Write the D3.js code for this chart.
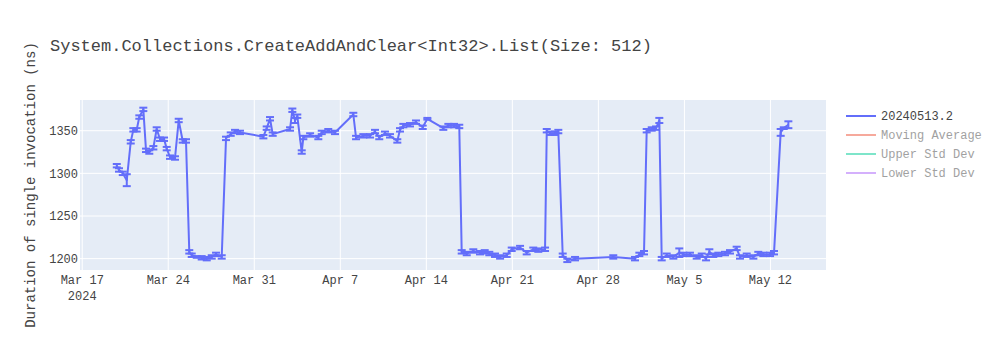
<!DOCTYPE html>
<html>
<head>
<meta charset="utf-8">
<script src="https://d3js.org/d3.v7.min.js"></script>
<style>
  body { margin: 0; background: #fff; }
  svg { font-family: "Courier New", "Liberation Mono", monospace; }
</style>
</head>
<body>
<svg width="1000" height="350"></svg>
<script>
// run timestamps
var runDates = [
  "2024-03-19T19:30","2024-03-19T23:50","2024-03-20T07:10","2024-03-20T15:00","2024-03-20T22:45",
  "2024-03-21T03:50","2024-03-21T10:20","2024-03-21T15:30","2024-03-21T23:20","2024-03-22T04:35",
  "2024-03-22T11:00","2024-03-22T18:55","2024-03-23T01:25","2024-03-23T07:55","2024-03-23T15:50",
  "2024-03-23T21:00","2024-03-24T03:25","2024-03-24T13:10","2024-03-24T20:25","2024-03-25T04:15",
  "2024-03-25T10:40","2024-03-25T17:05","2024-03-25T21:50","2024-03-26T07:40","2024-03-26T17:20",
  "2024-03-27T03:10","2024-03-27T12:55","2024-03-27T21:20","2024-03-28T08:25","2024-03-28T16:50",
  "2024-03-29T02:00","2024-03-29T10:20","2024-03-29T20:10","2024-03-31T17:45","2024-04-01T00:15",
  "2024-04-01T06:45","2024-04-01T12:00","2024-04-02T21:50","2024-04-03T02:20","2024-04-03T07:30",
  "2024-04-03T12:00","2024-04-03T20:40","2024-04-03T23:50","2024-04-04T13:00","2024-04-05T05:05",
  "2024-04-05T11:45","2024-04-06T00:30","2024-04-06T13:40","2024-04-08T01:25","2024-04-08T06:45",
  "2024-04-08T21:00","2024-04-09T10:05","2024-04-09T19:45","2024-04-10T04:05","2024-04-10T15:15",
  "2024-04-11T01:00","2024-04-11T15:20","2024-04-11T20:35","2024-04-12T03:05","2024-04-12T16:05",
  "2024-04-13T03:50","2024-04-13T17:00","2024-04-14T02:00","2024-04-15T09:10","2024-04-15T19:00",
  "2024-04-16T06:00","2024-04-16T16:20","2024-04-16T21:05","2024-04-17T06:55","2024-04-17T19:45",
  "2024-04-18T08:50","2024-04-18T18:00","2024-04-19T03:00","2024-04-19T14:10","2024-04-20T00:00",
  "2024-04-20T13:00","2024-04-20T22:45","2024-04-21T15:00","2024-04-22T04:00","2024-04-22T16:50",
  "2024-04-23T02:40","2024-04-23T15:50","2024-04-23T19:10","2024-04-24T01:30","2024-04-24T11:20",
  "2024-04-24T17:45","2024-04-25T02:20","2024-04-25T11:20","2024-04-26T02:25","2024-04-29T05:05",
  "2024-04-30T23:30","2024-05-01T08:00","2024-05-01T17:05","2024-05-01T22:20","2024-05-02T08:10",
  "2024-05-02T16:35","2024-05-02T23:00","2024-05-03T03:40","2024-05-03T13:25","2024-05-04T02:25",
  "2024-05-04T14:00","2024-05-04T21:50","2024-05-05T10:50","2024-05-06T00:00","2024-05-06T09:50",
  "2024-05-06T18:15","2024-05-07T00:40","2024-05-07T08:25","2024-05-07T18:15","2024-05-08T07:15",
  "2024-05-08T17:00","2024-05-09T06:00","2024-05-09T12:30","2024-05-10T01:40","2024-05-10T14:40",
  "2024-05-11T00:15","2024-05-11T10:05","2024-05-11T23:15","2024-05-12T07:00","2024-05-12T20:00",
  "2024-05-13T02:00","2024-05-13T11:00"
];

// duration (ns)
var durations = [
  1309,1304,1300,1292,1337, 1351,1351,1366,1375,1327,
  1325,1330,1352,1340,1340, 1329,1319,1318,1362,1338,
  1338,1208,1204,1202,1201, 1200,1202,1205,1202,1341,
  1346,1349,1348,1343,1353, 1364,1346,1352,1374,1362,
  1367,1325,1342,1345,1342, 1348,1350,1348,1369,1342,
  1344,1344,1349,1342,1347, 1344,1338,1351,1356,1357,
  1360,1354,1364,1353,1356, 1356,1355,1208,1206,1209,
  1207,1208,1206,1204,1202, 1204,1211,1213,1207,1211,
  1210,1211,1350,1347,1347, 1349,1204,1198,1200,1202,
  1200,1205,1207,1350,1352, 1353,1362,1200,1204,1202,
  1207,1205,1205,1202,1204, 1200,1208,1204,1205,1206,
  1208,1212,1202,1204,1202, 1206,1205,1205,1207,1348,
  1353,1357
];

// error bar half-size (ns)
var errors = [
  2,2,2,7,2, 2,2,2,2,2,
  2,2,2,2,2, 2,2,2,2,2,
  2,2,2,1,2, 2,2,2,2,2,
  2,2,2,2,2, 2,2,2,2,3,
  2,2,2,2,2, 2,2,2,2,2,
  2,2,2,2,2, 2,2,2,2,2,
  2,2,1,2,2, 2,2,2,2,2,
  2,2,2,2,2, 2,2,2,2,2,
  2,2,2,2,2, 2,2,2,2,2,
  2,2,2,2,2, 2,3,2,2,2,
  5,2,2,2,2, 2,3,2,2,2,
  2,2,2,2,2, 2,2,2,2,4,
  1,4
];

var yTicks = [1200, 1250, 1300, 1350];
var seriesNames = ["20240513.2", "Moving Average", "Upper Std Dev", "Lower Std Dev"];
var seriesColors = ["#636efa", "#EF553B", "#00cc96", "#ab63fa"];

var parse = d3.timeParse("%Y-%m-%dT%H:%M");
var data = runDates.map(function(d, i) {
  return { date: parse(d), value: durations[i], err: errors[i] };
});

var svg = d3.select("svg");
var margin = { left: 80, right: 174, top: 100, bottom: 80 };
var width = 1000 - margin.left - margin.right,
    height = 350 - margin.top - margin.bottom;

var x = d3.scaleTime()
    .domain([new Date(2024, 2, 16, 19, 40), new Date(2024, 4, 16, 12, 30)])
    .range([0, width]);
var y = d3.scaleLinear()
    .domain([1186.7, 1386])
    .range([height, 0]);

svg.append("text")
    .attr("x", 50).attr("y", 51)
    .attr("font-size", 17).attr("fill", "#444")
    .text("System.Collections.CreateAddAndClear<Int32>.List(Size: 512)");

var g = svg.append("g").attr("transform", "translate(" + margin.left + "," + margin.top + ")");

g.append("rect").attr("width", width).attr("height", height).attr("fill", "#E5ECF6");

var weekTicks = d3.timeWeek.every(1).range(new Date(2024, 2, 17), new Date(2024, 4, 16, 12));

g.selectAll(".xgrid").data(weekTicks).enter().append("line")
    .attr("x1", function(d) { return x(d); }).attr("x2", function(d) { return x(d); })
    .attr("y1", 0).attr("y2", height)
    .attr("stroke", "#fff").attr("stroke-width", 1);

g.selectAll(".ygrid").data(yTicks).enter().append("line")
    .attr("x1", 0).attr("x2", width)
    .attr("y1", function(d) { return y(d); }).attr("y2", function(d) { return y(d); })
    .attr("stroke", "#fff").attr("stroke-width", 1);

// y tick labels
g.selectAll(".ylab").data(yTicks).enter().append("text")
    .attr("x", -2).attr("y", function(d) { return y(d); })
    .attr("dy", "0.35em").attr("text-anchor", "end")
    .attr("font-size", 12).attr("fill", "#444")
    .text(function(d) { return d; });

// x tick labels
var fmt = d3.timeFormat("%b %-d");
var xl = g.selectAll(".xlab").data(weekTicks).enter().append("text")
    .attr("x", function(d) { return x(d); }).attr("y", height + 14)
    .attr("text-anchor", "middle")
    .attr("font-size", 12).attr("fill", "#444");
xl.append("tspan").attr("x", function(d) { return x(d); }).text(function(d) { return fmt(d); });
xl.filter(function(d, i) { return i == 0; })
  .append("tspan").attr("x", function(d) { return x(d); }).attr("dy", 16).text("2024");

svg.append("text")
    .attr("transform", "translate(35," + (margin.top + height / 2) + ") rotate(-90)")
    .attr("text-anchor", "middle")
    .attr("font-size", 14).attr("fill", "#444")
    .text("Duration of single invocation (ns)");

var plot = g.append("g");

// error bars
var eb = plot.selectAll(".err").data(data).enter().append("g")
    .attr("stroke", seriesColors[0]).attr("stroke-width", 2);
eb.append("line")
    .attr("x1", function(d) { return x(d.date); }).attr("x2", function(d) { return x(d.date); })
    .attr("y1", function(d) { return y(d.value - d.err); }).attr("y2", function(d) { return y(d.value + d.err); });
eb.append("line")
    .attr("x1", function(d) { return x(d.date) - 4; }).attr("x2", function(d) { return x(d.date) + 4; })
    .attr("y1", function(d) { return y(d.value - d.err); }).attr("y2", function(d) { return y(d.value - d.err); });
eb.append("line")
    .attr("x1", function(d) { return x(d.date) - 4; }).attr("x2", function(d) { return x(d.date) + 4; })
    .attr("y1", function(d) { return y(d.value + d.err); }).attr("y2", function(d) { return y(d.value + d.err); });

var line = d3.line()
    .x(function(d) { return x(d.date); })
    .y(function(d) { return y(d.value); });

plot.append("path")
    .datum(data)
    .attr("d", line)
    .attr("fill", "none")
    .attr("stroke", seriesColors[0])
    .attr("stroke-width", 2)
    .attr("stroke-linejoin", "round");

// legend
var legend = svg.selectAll(".legend").data(seriesNames).enter().append("g")
    .attr("transform", function(d, i) { return "translate(846," + (116 + i * 19) + ")"; })
    .attr("opacity", function(d, i) { return i == 0 ? 1 : 0.5; });
legend.append("line")
    .attr("x1", 0).attr("x2", 30)
    .attr("stroke", function(d, i) { return seriesColors[i]; })
    .attr("stroke-width", 2);
legend.append("text")
    .attr("x", 35).attr("dy", "0.35em")
    .attr("font-size", 12).attr("fill", "#444")
    .text(function(d) { return d; });
</script>
</body>
</html>
